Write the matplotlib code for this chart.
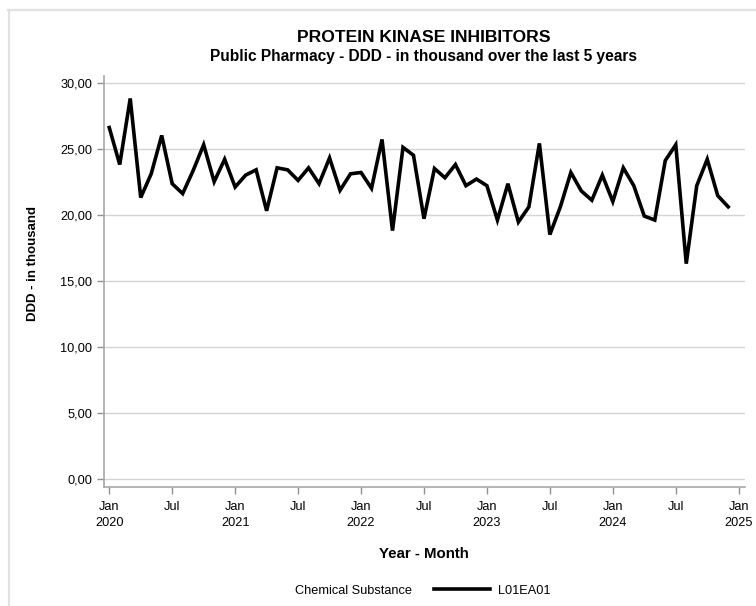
import matplotlib.pyplot as plt
from matplotlib.lines import Line2D

# monthly DDD (in thousand), Jan 2020 - Dec 2024
ddd_2020 = [26.6, 23.8, 28.8, 21.3, 23.1, 26.0, 22.35, 21.6, 23.35, 25.3, 22.5, 24.2]
ddd_2021 = [22.1, 23.0, 23.4, 20.3, 23.55, 23.4, 22.6, 23.55, 22.35, 24.3, 21.85, 23.1]
ddd_2022 = [23.2, 22.0, 25.7, 18.8, 25.1, 24.5, 19.7, 23.5, 22.8, 23.8, 22.2, 22.7]
ddd_2023 = [22.2, 19.6, 22.35, 19.45, 20.6, 25.4, 18.5, 20.6, 23.2, 21.8, 21.1, 23.0]
ddd_2024 = [21.0, 23.55, 22.2, 19.9, 19.6, 24.1, 25.3, 16.3, 22.2, 24.2, 21.45, 20.6]
series = ddd_2020 + ddd_2021 + ddd_2022 + ddd_2023 + ddd_2024
months = list(range(len(series)))

years = [2020, 2021, 2022, 2023, 2024, 2025]
tick_pos = list(range(0, 61, 6))
tick_labels = []
for p in tick_pos:
    if p % 12 == 0:
        tick_labels.append('Jan\n%d' % years[p // 12])
    else:
        tick_labels.append('Jul')

y_ticks = [0, 5, 10, 15, 20, 25, 30]
y_labels = ['%.2f' % v for v in y_ticks]
y_labels = [s.replace('.', ',') for s in y_labels]

plt.rcParams['font.family'] = ['Liberation Sans', 'DejaVu Sans']

fig = plt.figure(figsize=(7.56, 6.06), dpi=100)
ax = fig.add_axes([104 / 756, 119 / 606, 641 / 756, 411 / 606])

ax.plot(months, series, color='black', linewidth=2.6, solid_joinstyle='miter')

ax.set_xlim(-0.5, 60.6)
ax.set_ylim(-0.6, 30.5)
ax.set_xticks(tick_pos)
ax.set_xticklabels(tick_labels, fontsize=9.2, linespacing=1.5)
ax.set_yticks(y_ticks)
ax.set_yticklabels(y_labels, fontsize=9.2)
ax.tick_params(axis='both', colors='#909090', labelcolor='black', length=5, width=1)
ax.tick_params(axis='x', pad=5)

ax.grid(axis='y', color='#d4d4d4', linewidth=1)
ax.set_axisbelow(True)
for side in ['top', 'right']:
    ax.spines[side].set_visible(False)
for side in ['left', 'bottom']:
    ax.spines[side].set_color('#a8a8a8')
    ax.spines[side].set_linewidth(1.2)

cx = 424 / 756
fig.text(cx, 1 - 38 / 606, 'PROTEIN KINASE INHIBITORS', ha='center', va='center',
         fontsize=12.6, fontweight='bold')
fig.text(cx, 1 - 57 / 606, 'Public Pharmacy - DDD - in thousand over the last 5 years',
         ha='center', va='center', fontsize=11.2, fontweight='bold')
fig.text(33 / 756, 1 - 264 / 606, 'DDD - in thousand', rotation=90, ha='center', va='center',
         fontsize=9.5, fontweight='bold')
fig.text(cx, 1 - 554 / 606, 'Year - Month', ha='center', va='center',
         fontsize=10.8, fontweight='bold')

# legend row
fig.text(412 / 756, 1 - 591 / 606, 'Chemical Substance', ha='right', va='center', fontsize=9.2)
fig.add_artist(Line2D([434 / 756, 490 / 756], [1 - 589 / 606] * 2, color='black', linewidth=2.6))
fig.text(498 / 756, 1 - 591 / 606, 'L01EA01', ha='left', va='center', fontsize=9.2)

# outer frame
fig.add_artist(Line2D([8 / 756, 1], [1 - 10 / 606] * 2, color='#e2e2e2', linewidth=1.6))
fig.add_artist(Line2D([9 / 756] * 2, [0, 1 - 10 / 606], color='#e2e2e2', linewidth=1.6))

fig.savefig('out.png', dpi=100)
